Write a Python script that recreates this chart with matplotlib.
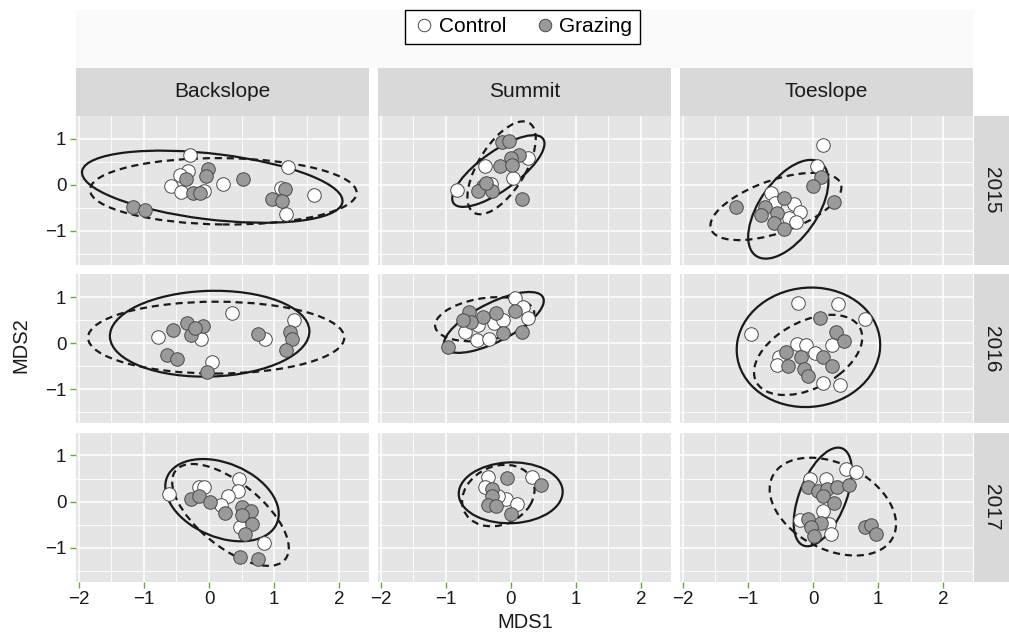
import matplotlib.pyplot as plt
import numpy as np
from matplotlib.patches import Ellipse, Rectangle
from matplotlib.lines import Line2D

plt.rcParams['font.family'] = ['Liberation Sans', 'DejaVu Sans']

positions = ['Backslope', 'Summit', 'Toeslope']
years = ['2015', '2016', '2017']
groups = ['Control', 'Grazing']

# NMDS scores, (MDS1, MDS2)
bs15_control = [(-0.29, 0.65), (1.22, 0.39), (-0.32, 0.30), (-0.44, 0.21), (-0.58, -0.02),
                (-0.43, -0.15), (-0.08, -0.13), (0.22, 0.01), (1.10, -0.06), (1.61, -0.22),
                (1.19, -0.64)]
bs15_grazing = [(-0.01, 0.34), (-0.04, 0.20), (-0.35, 0.12), (0.52, 0.12), (-0.25, -0.17),
                (-0.14, -0.18), (1.17, -0.09), (0.97, -0.30), (1.12, -0.35), (-1.17, -0.48),
                (-0.98, -0.54)]
su15_control = [(-0.40, 0.41), (0.03, 0.14), (-0.82, -0.11), (0.26, 0.59), (-0.30, 0.02)]
su15_grazing = [(-0.13, 0.92), (-0.02, 0.96), (0.13, 0.65), (0.00, 0.59), (-0.17, 0.41),
                (0.02, 0.43), (-0.42, -0.02), (-0.51, -0.13), (-0.28, -0.13), (-0.38, 0.05),
                (0.17, -0.31)]
to15_control = [(0.15, 0.87), (0.06, 0.40), (-0.65, -0.18), (-0.59, -0.40), (-0.29, -0.42),
                (-0.20, -0.60), (-0.37, -0.71), (-0.26, -0.80)]
to15_grazing = [(0.13, 0.18), (0.00, -0.02), (0.33, -0.37), (-0.44, -0.28), (-1.19, -0.49),
                (-0.74, -0.49), (-0.55, -0.62), (-0.80, -0.66), (-0.60, -0.83), (-0.45, -0.95)]
bs16_control = [(0.35, 0.65), (1.30, 0.50), (-0.79, 0.14), (-0.12, 0.10), (0.86, 0.08),
                (0.04, -0.41)]
bs16_grazing = [(-0.56, 0.28), (-0.34, 0.43), (-0.10, 0.37), (-0.27, 0.17), (-0.22, 0.32),
                (0.75, 0.19), (1.25, 0.25), (1.27, 0.08), (1.18, -0.15), (-0.64, -0.26),
                (-0.49, -0.35), (-0.03, -0.62)]
su16_control = [(0.07, 0.99), (0.19, 0.79), (0.27, 0.54), (-0.25, 0.43), (-0.12, 0.50),
                (-0.70, 0.25), (-0.52, 0.07), (-0.33, 0.10), (-0.50, 0.39)]
su16_grazing = [(-0.64, 0.68), (-0.43, 0.57), (-0.23, 0.66), (0.06, 0.70), (-0.61, 0.46),
                (-0.12, 0.21), (0.17, 0.25), (-0.97, -0.08), (-0.74, 0.50)]
to16_control = [(-0.23, 0.88), (0.38, 0.86), (0.80, 0.52), (-0.95, 0.20), (-0.25, -0.02),
                (0.29, -0.04), (-0.11, -0.05), (0.03, -0.22), (-0.52, -0.31), (-0.55, -0.48),
                (0.15, -0.86), (0.42, -0.91)]
to16_grazing = [(0.10, 0.54), (0.35, 0.25), (0.47, 0.05), (-0.42, -0.19), (-0.18, -0.30),
                (0.15, -0.30), (-0.39, -0.50), (0.29, -0.50), (-0.14, -0.57), (-0.07, -0.72)]
bs17_control = [(-0.61, 0.17), (-0.16, 0.31), (-0.07, 0.31), (0.46, 0.49), (0.44, 0.24),
                (0.29, 0.13), (0.19, -0.07), (0.48, -0.56), (0.84, -0.90)]
bs17_grazing = [(-0.27, 0.06), (-0.16, 0.12), (0.01, 0.00), (0.24, -0.25), (0.50, -0.12),
                (0.64, -0.20), (0.50, -0.30), (0.66, -0.48), (0.56, -0.70), (0.48, -1.21),
                (0.76, -1.25)]
su17_control = [(-0.35, 0.53), (-0.40, 0.31), (0.32, 0.53), (-0.08, 0.06), (0.10, -0.05),
                (-0.20, 0.13)]
su17_grazing = [(-0.05, 0.51), (0.47, 0.35), (-0.29, 0.28), (-0.28, 0.13), (-0.35, -0.07),
                (-0.23, -0.09), (0.00, -0.27)]
to17_control = [(0.51, 0.71), (0.66, 0.64), (-0.04, 0.48), (0.20, 0.48), (0.15, -0.20),
                (-0.20, -0.41), (0.25, -0.48), (0.27, -0.70)]
to17_grazing = [(-0.08, 0.31), (0.07, 0.24), (0.21, 0.28), (0.37, 0.31), (0.56, 0.36),
                (0.16, 0.12), (0.32, -0.03), (-0.08, -0.38), (0.13, -0.46), (-0.03, -0.56),
                (0.02, -0.74), (0.80, -0.56), (0.89, -0.51), (0.97, -0.70)]

# 95% ellipses: centre x, centre y, semi-axis a, semi-axis b, angle (deg), Control then Grazing
bs15_ellipses = [(0.05, -0.04, 2.03, 0.71, -10), (0.22, -0.14, 2.05, 0.72, -1)]
su15_ellipses = [(-0.19, 0.30, 0.99, 0.36, 48.5), (-0.14, 0.37, 1.07, 0.385, 69)]
to15_ellipses = [(-0.38, -0.53, 1.14, 0.48, 68), (-0.57, -0.47, 1.12, 0.54, 30)]
bs16_ellipses = [(0.01, 0.205, 1.535, 0.93, 3), (0.11, 0.12, 1.97, 0.78, 0)]
su16_ellipses = [(-0.26, 0.45, 0.94, 0.38, 39), (-0.40, 0.52, 0.78, 0.45, 15)]
to16_ellipses = [(-0.07, -0.09, 1.30, 1.10, 83), (-0.075, -0.255, 1.02, 0.64, 48)]
bs17_ellipses = [(0.20, 0.03, 1.02, 0.72, -47), (0.33, -0.29, 1.30, 0.58, -54)]
su17_ellipses = [(0.0, 0.19, 0.80, 0.66, 5), (-0.19, 0.13, 0.69, 0.53, 67)]
to17_ellipses = [(0.15, 0.10, 1.10, 0.37, 76), (0.305, -0.11, 1.19, 0.81, -52)]

panels = {
    ('Backslope', '2015'): (bs15_control, bs15_grazing, bs15_ellipses),
    ('Summit', '2015'): (su15_control, su15_grazing, su15_ellipses),
    ('Toeslope', '2015'): (to15_control, to15_grazing, to15_ellipses),
    ('Backslope', '2016'): (bs16_control, bs16_grazing, bs16_ellipses),
    ('Summit', '2016'): (su16_control, su16_grazing, su16_ellipses),
    ('Toeslope', '2016'): (to16_control, to16_grazing, to16_ellipses),
    ('Backslope', '2017'): (bs17_control, bs17_grazing, bs17_ellipses),
    ('Summit', '2017'): (su17_control, su17_grazing, su17_ellipses),
    ('Toeslope', '2017'): (to17_control, to17_grazing, to17_ellipses),
}

W, H = 1009, 633
fig = plt.figure(figsize=(W / 100, H / 100), dpi=100)

col_left = [76, 377.7, 680]
row_top = [116, 274.3, 432.7]
pw, ph = 293, 149
tick_green = '#6DA544'
fills = {'Control': 'white', 'Grazing': '#9A9A9A'}
styles = {'Control': '-', 'Grazing': (0, (3.2, 2.2))}

# faint band behind the legend
fig.patches.append(Rectangle((76 / W, 1 - 67.7 / H), (973.6 - 76) / W, 57.7 / H,
                             transform=fig.transFigure, fc='#FAFAFA', ec='none', zorder=0))


def px_axes(x, y, w, h):
    return fig.add_axes([x / W, 1 - (y + h) / H, w / W, h / H])


def strip(x, y, w, h, label, rot):
    sax = px_axes(x, y, w, h)
    sax.set_facecolor('#D9D9D9')
    sax.set_xticks([])
    sax.set_yticks([])
    for s in sax.spines.values():
        s.set_visible(False)
    sax.text(0.5, 0.5, label, ha='center', va='center', rotation=rot, fontsize=15,
             color='#1A1A1A', transform=sax.transAxes)


for r, yr in enumerate(years):
    for c, pos in enumerate(positions):
        ax = px_axes(col_left[c], row_top[r], pw, ph)
        ax.set_facecolor('#E5E5E5')
        ax.set_xlim(-2.045, 2.46)
        ax.set_ylim(-1.74, 1.495)
        ax.set_xticks([-2, -1, 0, 1, 2])
        ax.set_yticks([-1, 0, 1])
        ax.set_xticks(np.arange(-1.5, 2.5, 1.0), minor=True)
        ax.set_yticks([-1.5, -0.5, 0.5], minor=True)
        ax.grid(True, which='major', color='white', lw=1.1)
        ax.grid(True, which='minor', color='white', lw=0.6)
        ax.set_axisbelow(True)
        for s in ax.spines.values():
            s.set_visible(False)
        ax.tick_params(which='minor', length=0)
        ax.tick_params(which='major', color=tick_green, length=4, width=1,
                       labelsize=13.5, labelcolor='#1A1A1A', pad=3)
        if r < 2:
            ax.tick_params(axis='x', which='major', length=0, labelbottom=False)
        if c > 0:
            ax.tick_params(axis='y', which='major', length=0, labelleft=False)

        ctrl, graz, ells = panels[(pos, yr)]
        for g, e in zip(groups, ells):
            ax.add_patch(Ellipse((e[0], e[1]), 2 * e[2], 2 * e[3], angle=e[4], fill=False,
                                 ec='#1A1A1A', lw=1.6, ls=styles[g], zorder=2))
        for g, pts in zip(groups, [ctrl, graz]):
            arr = np.array(pts)
            ax.scatter(arr[:, 0], arr[:, 1], s=95, c=fills[g], edgecolors='#4A4A4A',
                       linewidths=0.7, zorder=3)

        if r == 0:
            strip(col_left[c], 67.7, pw, 116 - 67.7, pos, 0)
        if c == 2:
            strip(973.6, row_top[r], W - 973.6, ph, yr, -90)

fig.text(525 / W, 1 - 623 / H, 'MDS1', ha='center', va='center', fontsize=14.5,
         color='#1A1A1A')
fig.text(21 / W, 1 - 345 / H, 'MDS2', ha='center', va='center', rotation=90, fontsize=14.5,
         color='#1A1A1A')

handles = [Line2D([], [], ls='none', marker='o', ms=9, mfc=fills[g], mec='#4A4A4A', mew=0.7)
           for g in groups]
leg = fig.legend(handles, groups, loc='upper center', bbox_to_anchor=(522.5 / W, 1 - 10 / H),
                 ncol=2, frameon=True, fancybox=False, fontsize=15, handletextpad=0.15,
                 columnspacing=1.3, borderpad=0.35, handlelength=1.1,
                 borderaxespad=0)
leg.get_frame().set_edgecolor('black')
leg.get_frame().set_linewidth(1.0)
leg.get_frame().set_alpha(1)

fig.savefig('out.png', dpi=100)
